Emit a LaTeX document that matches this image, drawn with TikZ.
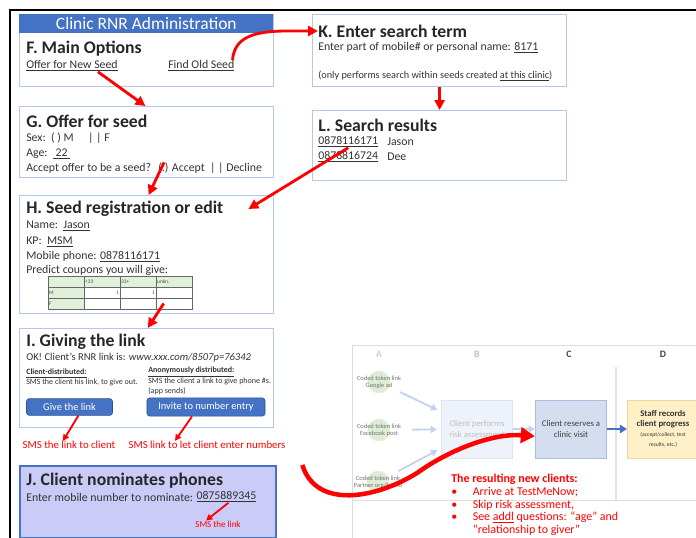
\documentclass[tikz,border=0pt]{standalone}
\usepackage{fontspec}
\setmainfont{Carlito}
\usetikzlibrary{arrows.meta}

\definecolor{panelline}{HTML}{B4C7E7}
\definecolor{headblue}{HTML}{4472C4}
\definecolor{btnline}{HTML}{2F528F}
\definecolor{jfill}{HTML}{CBCBF7}
\definecolor{cellgreen}{HTML}{E2EFDA}
\definecolor{fadegray}{HTML}{BFBFBF}
\definecolor{fadeline}{HTML}{DDDDDD}
\definecolor{fadeblue}{HTML}{C3D2EE}
\definecolor{bfill}{HTML}{EEF2FA}
\definecolor{bline}{HTML}{DCE4F4}
\definecolor{cfill}{HTML}{D5DDF0}
\definecolor{cline}{HTML}{A9BCE2}
\definecolor{dfill}{HTML}{FFF0C8}
\definecolor{dline}{HTML}{EFD79C}
\definecolor{circfill}{HTML}{E0EDD6}

\tikzset{
  panel/.style={draw=panelline, line width=0.8pt, anchor=north west, minimum width=6.35cm, inner sep=0pt},
  title/.style={anchor=west, inner sep=0pt, font=\bfseries\fontsize{12.6}{14}\selectfont, text=black!85},
  body/.style={anchor=west, inner sep=0pt, font=\fontsize{8.4}{9.5}\selectfont, text=black!80},
  small/.style={anchor=west, inner sep=0pt, font=\fontsize{5.7}{6.6}\selectfont, text=black!80, align=left},
  cell/.style={draw=black!60, line width=0.4pt, minimum width=0.9cm, minimum height=0.275cm, text width=0.84cm, inner xsep=0.03cm, inner ysep=0pt, align=left, font=\fontsize{3.8}{4}\selectfont, text=black!70},
  button/.style={draw=btnline, fill=headblue, rounded corners=2pt, minimum height=0.42cm, text=white, font=\fontsize{7.4}{8}\selectfont},
  redtext/.style={inner sep=0pt, text=red, font=\fontsize{7.7}{9}\selectfont},
  redarrow/.style={draw=red, line width=2pt, -{Triangle[length=7pt,width=7pt]}},
  thinred/.style={draw=red, line width=1.3pt, -{Triangle[length=4.5pt,width=4.5pt]}},
  fadearrow/.style={draw=fadeblue, line width=1.3pt, -{Triangle[length=4.5pt,width=5pt]}},
  stepbox/.style={line width=0.7pt, minimum width=1.78cm, minimum height=1.45cm, align=center, inner sep=1pt, font=\fontsize{6.2}{7.2}\selectfont},
  token/.style={circle, fill=circfill, draw=circfill, minimum size=0.55cm, inner sep=0pt},
  tokentext/.style={inner sep=0pt, align=center, text=black!55, font=\fontsize{4.6}{5.2}\selectfont},
}

\begin{document}
\begin{tikzpicture}[x=0.025cm, y=-0.025cm]
\useasboundingbox (0,0) rectangle (696,538);
\draw [black, line width=1pt] (696,10) -- (10,10) -- (10,538);

% F main options
\node [panel, minimum height=1.8cm] (F) at (19,14) {};
\node [anchor=north west, fill=headblue, minimum width=6.35cm, minimum height=0.475cm, inner sep=0pt, text=white, font=\fontsize{12.4}{13}\selectfont] (head) at (19,14) {Clinic RNR Administration};
\node [title] (ftitle) at (26,49) {F. Main Options};
\node [body] (offer) at (26,66) {\underline{Offer for New Seed}};
\node [body] (findold) at (168,66) {\underline{Find Old Seed}};

% K search term
\node [panel, minimum height=1.8cm] (K) at (312,14) {};
\node [title] (ktitle) at (318,31) {K. Enter search term};
\node [body] (ktext) at (318,48) {Enter part of mobile\# or personal name: \underline{8171}};
\node [body, font=\fontsize{7.3}{8}\selectfont] (knote) at (318,76) {(only performs search within seeds created \underline{at this clinic})};

% L search results
\node [panel, minimum height=1.75cm] (L) at (312,110) {};
\node [title] (ltitle) at (318,125) {L. Search results};
\node [body] (lnum1) at (318,142) {\underline{0878116171}};
\node [body] (lname1) at (387,142) {Jason};
\node [body] (lnum2) at (318,157) {\underline{0878816724}};
\node [body] (lname2) at (387,157) {Dee};

% G offer
\node [panel, minimum height=1.775cm] (G) at (19,106) {};
\node [title] (gtitle) at (26,121) {G. Offer for seed};
\node [body] (gsex) at (26,138) {Sex:\ \ ( ) M \quad | | F};
\node [body] (gage) at (26,154) {Age:\ \ \underline{\ 22\ }};
\node [body] (gask) at (26,168) {Accept offer to be a seed?};
\node [body] (gchoice) at (158,168) {(.) Accept \ | | Decline};

% H registration
\node [panel, minimum height=2.95cm] (H) at (19,195) {};
\node [title] (htitle) at (26,209) {H. Seed registration or edit};
\node [body] (hname) at (26,226) {Name:\ \ \underline{Jason}};
\node [body] (hkp) at (26,242) {KP:\ \ \underline{MSM}};
\node [body] (hmob) at (26,257) {Mobile phone: \underline{0878116171}};
\node [body] (hpred) at (26,270) {Predict coupons you will give:};
\foreach \x/\t [count=\c] in {66/{},102/{<33},138/{33+},174/{unkn.}}
  \node [cell, fill=cellgreen] (c1\c) at (\x,281.5) {\t};
\foreach \y/\s/\v [count=\r from 2] in {292.5/M/1,303.5/F/{}} {
  \node [cell, fill=cellgreen] (c\r1) at (66,\y) {\s};
  \node [cell, fill=white, align=right] (c\r2) at (102,\y) {\v};
  \node [cell, fill=white, align=right] (c\r3) at (138,\y) {\v};
  \node [cell, fill=white] (c\r4) at (174,\y) {};
}

% I giving the link
\node [panel, minimum height=2.475cm] (I) at (19,328) {};
\node [title] (ititle) at (26,342) {I. Giving the link};
\node [body, font=\fontsize{7.5}{8.5}\selectfont] (ilink) at (26,358) {OK! Client's RNR link is: \textit{www.xxx.com/8507p=76342}};
\node [small, anchor=north west] (iclient) at (26,369) {\textbf{\underline{Client-distributed:}}\\SMS the client his link, to give out.};
\node [small, anchor=north west] (ianon) at (148,367) {\textbf{\underline{Anonymously distributed:}}\\SMS the client a link to give phone \#s.\\(app sends)};
\node [button, minimum width=2.15cm] (give) at (69.5,407) {Give the link};
\node [button, minimum width=2.95cm] (invite) at (206,407) {Invite to number entry};
\node [redtext] (smsA) at (69,445) {SMS the link to client};
\node [redtext] (smsB) at (207,445) {SMS link to let client enter numbers};
\draw [thinred] ([xshift=0.22cm]give.south) -- ([xshift=-0.15cm]smsA.north);
\draw [thinred] ([xshift=-0.35cm]invite.south) -- ([xshift=-0.8cm]smsB.north);

% J nominates
\node [panel, draw=headblue, fill=jfill, line width=1.6pt, minimum width=6.4cm, minimum height=1.8cm] (J) at (19,465) {};
\node [title] (jtitle) at (26,481) {J. Client nominates phones};
\node [body] (jtext) at (26,497) {Enter mobile number to nominate:};
\node [body, anchor=west] (jnum) at ([xshift=2pt]jtext.east) {\underline{0875889345}};
\node [redtext, font=\fontsize{6.4}{7}\selectfont] (smsJ) at (218,524) {SMS the link};
\draw [thinred] ([xshift=0.05cm]jnum.south) -- ([xshift=-0.3cm]smsJ.north);

% faded flow picture
\draw [fadeline, line width=0.6pt] (696,345) -- (352,345) -- (352,538);
\draw [fadeline, line width=0.6pt] (352,500) -- (696,500);
\draw [bline, line width=0.8pt] (616,367) -- (616,500);
\node [text=fadegray, font=\fontsize{7}{8}\selectfont] (colA) at (379,354) {A};
\node [text=fadegray, font=\bfseries\fontsize{7}{8}\selectfont] (colB) at (477,354) {B};
\node [text=black!75, font=\bfseries\fontsize{7}{8}\selectfont] (colC) at (569,354) {C};
\node [text=black!75, font=\bfseries\fontsize{7}{8}\selectfont] (colD) at (663,354) {D};

\node [token] (a1) at (379,382) {};
\node [token] (a2) at (379,430) {};
\node [token] (a3) at (378,482) {};
\node [tokentext] (a1txt) at (379,382) {Coded token link\\Google ad};
\node [tokentext] (a2txt) at (379,430) {Coded token link\\Facebook post};
\node [tokentext] (a3txt) at (378,482) {Coded token link\\Partner org/friend};

\node [stepbox, draw=bline, fill=bfill, text=fadegray] (bbox) at (477,429) {Client performs\\risk assessment};
\node [stepbox, draw=cline, fill=cfill, text=black!75] (cbox) at (571,429) {Client reserves a\\clinic visit};
\node [stepbox, draw=dline, fill=dfill, text=black!80] (dbox) at (663,429) {\textbf{Staff records}\\\textbf{client progress}\\{\fontsize{4}{4.6}\selectfont (accept/collect, test}\\{\fontsize{4}{4.6}\selectfont results, etc.)}};

\draw [fadearrow, shorten <=0.3cm, shorten >=0.1cm] (a1) -- (bbox);
\draw [fadearrow, shorten <=0.55cm, shorten >=0.1cm] (a2) -- (bbox);
\draw [fadearrow, shorten <=0.3cm, shorten >=0.1cm] (a3) -- (bbox);
\draw [fadearrow] (bbox) -- (cbox);
\draw [draw=headblue, line width=1.6pt, -{Triangle[length=5pt,width=6pt]}] (cbox) -- (dbox);

\node [anchor=north west, inner sep=0pt, text=red, align=left, font=\fontsize{8.5}{9}\selectfont] (result) at (451,474) {\textbf{The resulting new clients:}\\
  \textbullet\hspace{1.3em}Arrive at TestMeNow;\\
  \textbullet\hspace{1.3em}Skip risk assessment,\\
  \textbullet\hspace{1.3em}See \underline{addl} questions: ``age'' and\\
  \hphantom{\textbullet}\hspace{1.3em}``relationship to giver''};

% red connectors
\draw [redarrow] ([xshift=-0.5cm]offer.south east) -- ([xshift=-0.03cm]G.north);
\draw [redarrow] ([xshift=-0.05cm]findold.north east) .. controls +(2,-32) and +(-45,0) .. (ktitle.west);
\draw [redarrow] (K.south) -- (L.north);
\draw [redarrow] (lnum1.south) -- ([xshift=0.62cm]htitle.east);
\draw [redarrow] ([xshift=0.15cm]gchoice.north west) -- ([xshift=0.05cm]H.north);
\draw [redarrow] ([xshift=0.2cm]c34.west) -- ([xshift=0.03cm]I.north);
\draw [draw=red, line width=3.2pt, -{Triangle[length=10pt,width=11pt]}] ([xshift=0.625cm]J.north east) .. controls +(14,45) and +(-40,25) .. (417,473) .. controls +(35,-25) and +(-40,-3) .. ([yshift=-0.18cm]cbox.west);
\end{tikzpicture}
\end{document}
